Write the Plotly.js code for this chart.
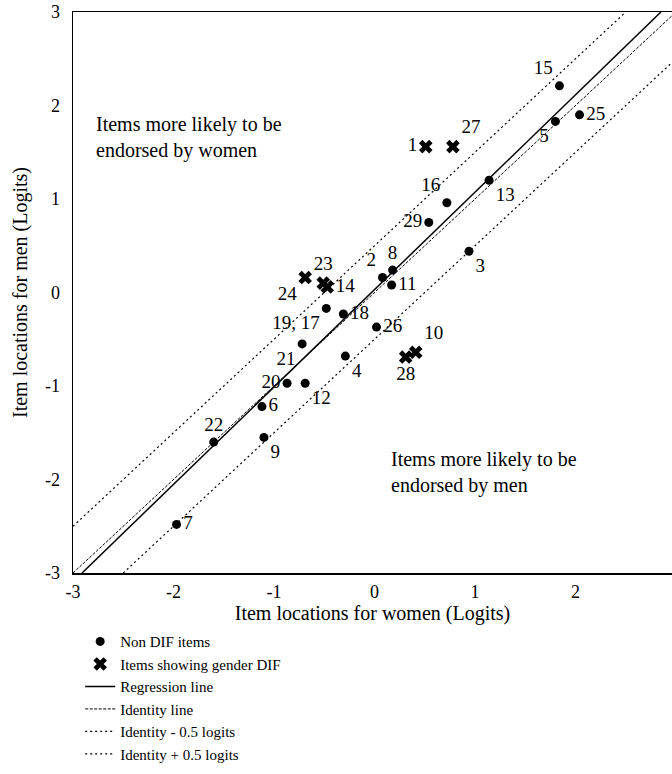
<!DOCTYPE html>
<html>
<head>
<meta charset="utf-8">
<script src="https://cdn.plot.ly/plotly-3.0.1.min.js"></script>
<style>html,body{margin:0;padding:0;background:#fff;}#chart{width:672px;height:774px;}</style>
</head>
<body>
<div id="chart"></div>
<script>
// Non-DIF items (dots)
const nonDifLabels = ["15","5","25","13","16","29","3","8","2","11","19, 17","18","26","21","4","20","12","6","22","9","7"];
const nonDifX = [1.84,1.80,2.04,1.14,0.72,0.54,0.94,0.18,0.08,0.17,-0.48,-0.31,0.02,-0.72,-0.29,-0.87,-0.69,-1.12,-1.60,-1.10,-1.97];
const nonDifY = [2.21,1.83,1.90,1.20,0.96,0.75,0.44,0.24,0.16,0.08,-0.17,-0.23,-0.37,-0.55,-0.68,-0.97,-0.97,-1.22,-1.60,-1.55,-2.48];
const nonDifTextPos = ["top left","bottom left","middle right","bottom right","top left","middle left","bottom right","top center","top left","middle right","bottom left","middle right","middle right","bottom left","bottom right","middle left","bottom right","middle right","top center","bottom right","middle right"];

// Items showing gender DIF (crosses)
const difLabels = ["1","27","24","23","14","10","28"];
const difX = [0.51,0.78,-0.69,-0.51,-0.47,0.41,0.31];
const difY = [1.56,1.56,0.16,0.10,0.06,-0.64,-0.69];
const difTextPos = ["middle left","top right","bottom left","top center","middle right","top right","bottom center"];

// Reference lines (end points)
const regX = [-2.91, 2.85];
const regY = [-3, 3];
const identX = [-3, 3.5];
const identY = [-3, 3.5];
const minusX = [-2.5, 3.5];
const minusY = [-3, 3];
const plusX = [-3, 2.5];
const plusY = [-2.5, 3];

const serif = "Liberation Serif, Times New Roman, serif";

const traces = [
  {x: regX, y: regY, mode: "lines", name: "Regression line", legendrank: 3,
   line: {color: "#000", width: 1.5}},
  {x: identX, y: identY, mode: "lines", name: "Identity line", legendrank: 4,
   line: {color: "#000", width: 1, dash: "3px,1.5px"}},
  {x: minusX, y: minusY, mode: "lines", name: "Identity - 0.5 logits", legendrank: 5,
   line: {color: "#000", width: 1.2, dash: "2px,3px"}},
  {x: plusX, y: plusY, mode: "lines", name: "Identity + 0.5 logits", legendrank: 6,
   line: {color: "#000", width: 1.2, dash: "2px,3px"}},
  {x: nonDifX, y: nonDifY, text: nonDifLabels, mode: "markers+text", name: "Non DIF items", legendrank: 1,
   textposition: nonDifTextPos, textfont: {family: serif, size: 19, color: "#000"},
   marker: {color: "#000", size: 9, symbol: "circle"}, cliponaxis: false},
  {x: difX, y: difY, text: difLabels, mode: "markers+text", name: "Items showing gender DIF", legendrank: 2,
   textposition: difTextPos, textfont: {family: serif, size: 19, color: "#000"},
   marker: {color: "#000", size: 12, symbol: "x", line: {width: 0}}, cliponaxis: false}
];

const layout = {
  width: 672, height: 774,
  margin: {l: 73, r: 0, t: 12, b: 201, autoexpand: false},
  paper_bgcolor: "#fff", plot_bgcolor: "#fff",
  font: {family: serif, color: "#000", size: 18},
  showlegend: true,
  legend: {x: 0.012, xanchor: "left", y: -0.093, yanchor: "top",
           font: {family: serif, size: 15, color: "#000"},
           bgcolor: "rgba(0,0,0,0)", tracegroupgap: 0},
  xaxis: {range: [-3, 2.96], showgrid: false, zeroline: false, showline: true,
          linecolor: "#000", linewidth: 1.5, mirror: true, ticks: "", automargin: false,
          tickvals: [-3,-2,-1,0,1,2,3], ticktext: ["-3","-2","-1","0","1","2","3"],
          tickfont: {family: serif, size: 18}, ticklabelstandoff: 2,
          title: {text: "Item locations for women (Logits)", font: {family: serif, size: 20}, standoff: 0}},
  yaxis: {range: [-3, 3], showgrid: false, zeroline: false, showline: true,
          linecolor: "#000", linewidth: 1.5, mirror: false, ticks: "", automargin: false,
          tickvals: [-3,-2,-1,0,1,2,3], ticktext: ["-3","-2","-1","0","1","2","3"],
          tickfont: {family: serif, size: 18}, ticklabelstandoff: 8,
          title: {text: "Item locations for men (Logits)", font: {family: serif, size: 20}, standoff: 12}},
  annotations: [
    {x: -2.79, y: 1.66, xref: "x", yref: "y", xanchor: "left", yanchor: "middle", align: "left",
     text: "Items more likely to be<br>endorsed by women", showarrow: false,
     font: {family: serif, size: 20, color: "#000"}},
    {x: 0.14, y: -1.92, xref: "x", yref: "y", xanchor: "left", yanchor: "middle", align: "left",
     text: "Items more likely to be<br>endorsed by men", showarrow: false,
     font: {family: serif, size: 20, color: "#000"}}
  ]
};

Plotly.newPlot("chart", traces, layout, {displayModeBar: false, staticPlot: true});
</script>
</body>
</html>
